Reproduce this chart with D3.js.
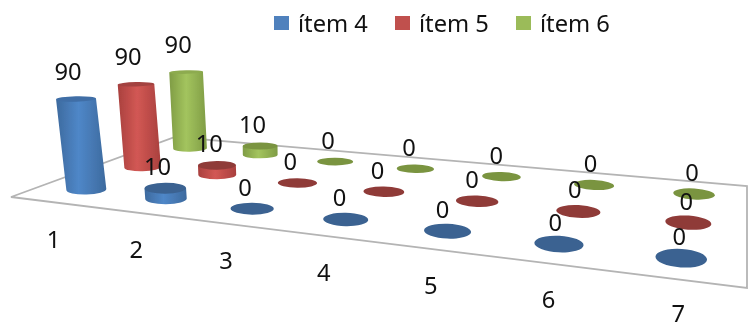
<!DOCTYPE html>
<meta charset="utf-8">
<style>
  html, body { margin: 0; padding: 0; background: #fff; overflow: hidden; }
  text { font-family: "Noto Sans", sans-serif; font-size: 23.7px; fill: #111; }
</style>
<script src="https://d3js.org/d3.v7.min.js"></script>
<div id="chart"></div>
<script>

// chart data
var categories = ["1", "2", "3", "4", "5", "6", "7"];
var seriesNames = ["ítem 4", "ítem 5", "ítem 6"];
var item4 = [90, 10, 0, 0, 0, 0, 0];
var item5 = [90, 10, 0, 0, 0, 0, 0];
var item6 = [90, 10, 0, 0, 0, 0, 0];
var seriesValues = [item4, item5, item6];

var width = 752, height = 329;

// side, middle and top colours for each series
var colors = [
  {edge: "#3d6a9e", mid: "#4f87c8", top: "#3a6291", tall: "#3f6ea6", key: "#4f81bd"},
  {edge: "#a9403e", mid: "#d25854", top: "#8f3a39", tall: "#a34341", key: "#c0504d"},
  {edge: "#7f9c45", mid: "#a3c45e", top: "#7a9440", tall: "#8dab4f", key: "#9bbb59"}
];

var svg = d3.select("#chart").append("svg")
  .attr("width", width)
  .attr("height", height);

var defs = svg.append("defs");

defs.append("filter").attr("id", "soft")
  .append("feGaussianBlur").attr("stdDeviation", 0.6);

colors.forEach(function(c, i) {
  var g = defs.append("linearGradient").attr("id", "body" + i);
  g.append("stop").attr("offset", "0%").attr("stop-color", c.edge);
  g.append("stop").attr("offset", "45%").attr("stop-color", c.mid);
  g.append("stop").attr("offset", "100%").attr("stop-color", c.edge);
});

// the floor is a perspective plane, unit square -> these screen corners
var frontLeft = [11, 197], backLeft = [175, 137], backRight = [747, 186], frontRight = [747, 288];

var dx1 = frontRight[0] - backRight[0], dy1 = frontRight[1] - backRight[1],
    dx2 = backLeft[0] - backRight[0], dy2 = backLeft[1] - backRight[1],
    sx = frontLeft[0] - frontRight[0] + backRight[0] - backLeft[0],
    sy = frontLeft[1] - frontRight[1] + backRight[1] - backLeft[1],
    det = dx1 * dy2 - dx2 * dy1,
    pg = (sx * dy2 - dx2 * sy) / det,
    ph = (dx1 * sy - sx * dy1) / det;

function depth(u, v) { return pg * u + ph * v + 1; }

function project(u, v) {
  var w = depth(u, v);
  return [
    ((frontRight[0] - frontLeft[0] + pg * frontRight[0]) * u + (backLeft[0] - frontLeft[0] + ph * backLeft[0]) * v + frontLeft[0]) / w,
    ((frontRight[1] - frontLeft[1] + pg * frontRight[1]) * u + (backLeft[1] - frontLeft[1] + ph * backLeft[1]) * v + frontLeft[1]) / w
  ];
}

// scales on the floor plane and for the height
var x = d3.scaleBand().domain(categories).range([0.008, 1]);
var z = d3.scaleBand().domain(seriesNames).range([0, 1]);
var h = d3.scaleLinear().domain([0, 90]).range([0, 93]);

// floor outline
var floor = svg.append("g").attr("filter", "url(#soft)");
floor.append("path")
  .attr("d", "M" + [frontLeft, backLeft, backRight, frontRight].join("L") + "Z")
  .attr("fill", "none")
  .attr("stroke", "#b4b4b4")
  .attr("stroke-width", 1.8);

// build one record per cylinder, back row first so the front ones sit on top
var marks = [];
seriesNames.forEach(function(name, s) {
  categories.forEach(function(cat, c) {
    var u = x(cat) + x.bandwidth() / 2,
        v = z(name) + z.bandwidth() / 2,
        w = depth(u, v),
        base = project(u, v),
        dh = h(seriesValues[s][c]) / w;
    marks.push({
      s: s, c: c, u: u, value: seriesValues[s][c],
      base: base,
      // verticals lean towards a vanishing point far below the chart
      top: [base[0] + (base[0] - 281) / (1900 - base[1]) * dh, base[1] - dh],
      rx: 20.5 / w,
      ry: 5.3 / Math.pow(w, 2.43),
      tilt: (u - 0.3) * 6
    });
  });
});
marks.sort(function(a, b) { return b.s - a.s || b.c - a.c; });

var cyl = svg.append("g").attr("filter", "url(#soft)")
  .selectAll("g")
  .data(marks)
  .enter()
  .append("g");

cyl.filter(function(d) { return d.value > 0; })
  .append("path")
  .attr("fill", function(d) { return "url(#body" + d.s + ")"; })
  .attr("d", function(d) {
    var arc = "A" + d.rx + " " + d.ry + " " + d.tilt + " 0 ";
    var a = d.tilt * Math.PI / 180,
        ox = d.rx * Math.cos(a), oy = d.rx * Math.sin(a);
    return "M" + (d.base[0] - ox) + "," + (d.base[1] - oy) +
      arc + "0 " + (d.base[0] + ox) + "," + (d.base[1] + oy) +
      "L" + (d.top[0] + ox) + "," + (d.top[1] + oy) +
      "L" + (d.top[0] - ox) + "," + (d.top[1] - oy) + "Z";
  });

// the tall cylinders show only a thin, flatter lid
cyl.append("ellipse")
  .attr("rx", function(d) { return d.rx; })
  .attr("ry", function(d) { return d.value == 90 ? d.ry * 0.55 : d.ry; })
  .attr("fill", function(d) { return d.value == 90 ? colors[d.s].tall : colors[d.s].top; })
  .attr("transform", function(d) {
    return "translate(" + d.top + ") rotate(" + d.tilt + ")";
  });

// data labels
svg.append("g")
  .selectAll("text")
  .data(marks)
  .enter()
  .append("text")
  .attr("text-anchor", "middle")
  .attr("x", function(d) { return d.top[0] - 8 + 7 * d.u * d.u; })
  .attr("y", function(d) {
    return d.top[1] + (d.value == 90 ? -19 : -13);
  })
  .text(function(d) { return d.value; });

// category labels under the front edge, pulled in a little at the far end so 7 stays in frame
svg.append("g")
  .selectAll("text")
  .data(categories)
  .enter()
  .append("text")
  .attr("text-anchor", "middle")
  .attr("x", function(d) { return project(x(d) + x.bandwidth() / 2, 0)[0] - 0.5 + 2 * x(d); })
  .attr("y", function(d) {
    var u = x(d) + x.bandwidth() / 2;
    return project(u, 0)[1] + 46 - 4.7 * Math.pow(u, 4);
  })
  .text(function(d) { return d; });

// legend
var legendX = d3.scalePoint().domain(seriesNames).range([274, 516]);
var legend = svg.append("g")
  .selectAll("g")
  .data(seriesNames)
  .enter()
  .append("g")
  .attr("transform", function(d) { return "translate(" + legendX(d) + ",0)"; });

legend.append("rect")
  .attr("y", 16)
  .attr("width", 15)
  .attr("height", 14)
  .attr("fill", function(d, i) { return colors[i].key; });

legend.append("text")
  .attr("x", 24)
  .attr("y", 32)
  .text(function(d) { return d; });

</script>
